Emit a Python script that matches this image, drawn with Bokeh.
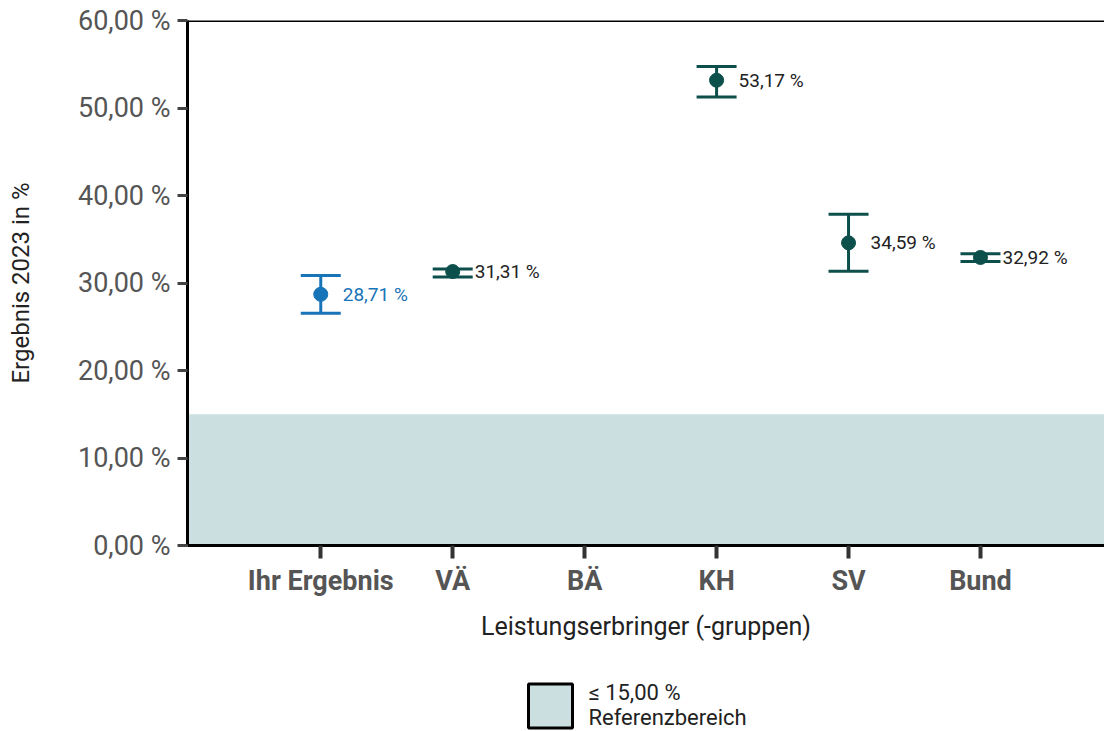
import math
from bokeh.plotting import figure
from bokeh.layouts import column
from bokeh.models import (Range1d, FixedTicker, Whisker, TeeHead, ColumnDataSource,
                          BoxAnnotation, Span)
from bokeh.core.properties import value
from bokeh.embed import file_html
from bokeh.resources import INLINE

categories = ["Ihr Ergebnis", "VÄ", "BÄ", "KH", "SV", "Bund"]
results = [28.71, 31.31, float("nan"), 53.17, 34.59, 32.92]
lower = [26.55, 30.7, float("nan"), 51.25, 31.35, 32.45]
upper = [30.85, 31.6, float("nan"), 54.75, 37.85, 33.35]
labels = ["28,71 %", "31,31 %", "", "53,17 %", "34,59 %", "32,92 %"]
reference_upper = 15.0
reference_label = ["≤ 15,00 %", "Referenzbereich"]
y_ticks = [0, 10, 20, 30, 40, 50, 60]
y_tick_labels = ["0,00 %", "10,00 %", "20,00 %", "30,00 %", "40,00 %", "50,00 %", "60,00 %"]

BLUE = "#1874b8"
TEAL = "#0d4f4b"
BAND = "#cbdfe1"
FONT = "Roboto"

p = figure(width=1104, height=668, output_backend="svg", toolbar_location=None,
           x_range=Range1d(-1.01, 5.94), y_range=Range1d(0, 60),
           min_border_left=187, min_border_top=20, min_border_right=0,
           min_border_bottom=123)
p.outline_line_color = None
p.xgrid.visible = False
p.ygrid.visible = False

# reference band
p.add_layout(BoxAnnotation(bottom=0, top=reference_upper, fill_color=BAND,
                           fill_alpha=1.0, line_color=None, level="underlay"))
# top frame line
p.add_layout(Span(location=60, dimension="width", line_color="black", line_width=3))

# axes
yax = p.yaxis[0]
yax.ticker = FixedTicker(ticks=y_ticks)
yax.major_label_overrides = {t: l for t, l in zip(y_ticks, y_tick_labels)}
yax.axis_line_color = "black"
yax.axis_line_width = 3
yax.major_tick_line_color = "#444444"
yax.major_tick_line_width = 3
yax.major_tick_out = 10
yax.major_tick_in = 0
yax.minor_tick_line_color = None
yax.major_label_text_font = FONT
yax.major_label_text_font_size = "27px"
yax.major_label_text_color = "#555555"
yax.major_label_standoff = 7
yax.axis_label = "Ergebnis 2023 in %"
yax.axis_label_text_font = FONT
yax.axis_label_text_font_size = "24px"
yax.axis_label_text_font_style = "normal"
yax.axis_label_text_color = "#222222"
yax.axis_label_standoff = 40

xax = p.xaxis[0]
xax.ticker = FixedTicker(ticks=list(range(len(categories))))
xax.major_label_overrides = {i: c for i, c in enumerate(categories)}
xax.axis_line_color = "black"
xax.axis_line_width = 3
xax.major_tick_line_color = "#333333"
xax.major_tick_line_width = 4
xax.major_tick_out = 13
xax.major_tick_in = 0
xax.minor_tick_line_color = None
xax.major_label_text_font = FONT
xax.major_label_text_font_size = "27px"
xax.major_label_text_font_style = "bold"
xax.major_label_text_color = "#555555"
xax.major_label_standoff = 6
xax.axis_label = "Leistungserbringer (-gruppen)"
xax.axis_label_text_font = FONT
xax.axis_label_text_font_size = "25px"
xax.axis_label_text_font_style = "normal"
xax.axis_label_text_color = "#222222"
xax.axis_label_standoff = 12

xs = list(range(len(categories)))
for i in xs:
    if math.isnan(results[i]):
        continue
    col = BLUE if i == 0 else TEAL
    src = ColumnDataSource(dict(x=[i], y=[results[i]], lo=[lower[i]], hi=[upper[i]],
                                lab=[labels[i]]))
    p.add_layout(Whisker(base="x", lower="lo", upper="hi", source=src,
                         line_color=col, line_width=3,
                         upper_head=TeeHead(size=40, line_color=col, line_width=3),
                         lower_head=TeeHead(size=40, line_color=col, line_width=3)))
    p.scatter("x", "y", source=src, size=14, fill_color=col, line_color=col)
    p.text("x", "y", text="lab", source=src, x_offset=22, text_baseline="middle",
           text_align="left", text_font=value(FONT), text_font_size="19px",
           text_color=BLUE if i == 0 else "#222222")

# manual legend panel (its frame is aligned with the main plot's frame, 187..1104)
lg = figure(width=1104, height=63, output_backend="svg", toolbar_location=None,
            x_range=Range1d(187, 1104), y_range=Range1d(0, 63),
            x_axis_location=None, y_axis_location=None,
            min_border_left=187, min_border_right=0, min_border_top=0, min_border_bottom=0)
lg.grid.visible = False
lg.outline_line_color = None
lg.rect(x=[550], y=[25.5], width=44, height=44, fill_color=BAND,
        line_color="black", line_width=3)
lg.text(x=[588, 588], y=[39, 14], text=reference_label, text_baseline="middle",
        text_align="left", text_font=value(FONT), text_font_size="22px",
        text_color="#222222")

open("out.html", "w").write(file_html(column(p, lg, spacing=0), INLINE))
